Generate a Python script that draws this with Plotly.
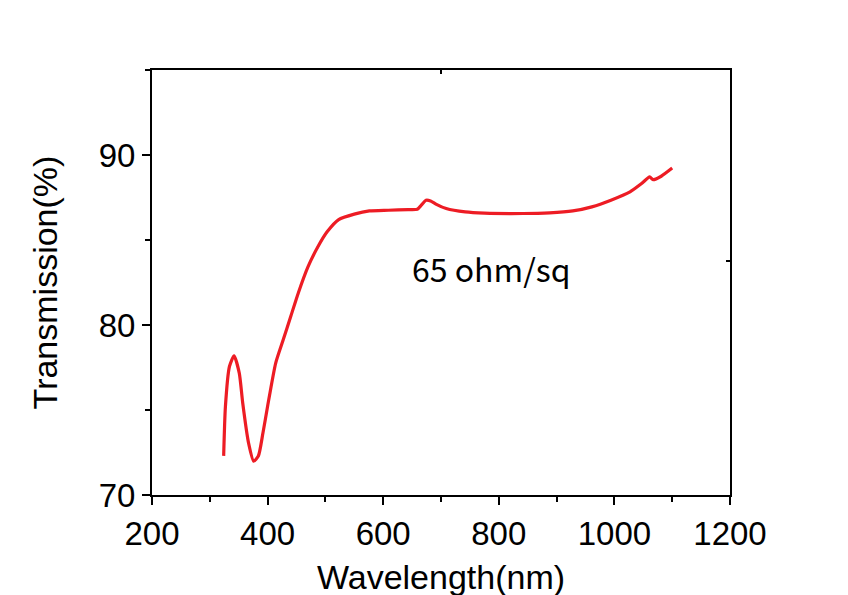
import plotly.graph_objects as go

wavelength = [324, 327, 334, 342, 351, 357, 367, 376, 384, 392, 400, 414, 427, 440, 453,
              470, 487, 503, 523, 550, 576, 609, 643, 659, 666, 674, 682, 692, 709, 742,
              775, 842, 888, 928, 961, 994, 1027, 1047, 1061, 1067, 1081, 1100]
transmission = [72.3, 75.2, 77.56, 78.19, 77.17, 75.4, 73.07, 71.99, 72.29, 73.66, 75.22,
                77.76, 79.13, 80.5, 81.87, 83.43, 84.6, 85.48, 86.2, 86.52, 86.71, 86.75,
                86.79, 86.81, 87.05, 87.34, 87.3, 87.1, 86.85, 86.65, 86.58, 86.56, 86.6,
                86.71, 86.95, 87.34, 87.83, 88.32, 88.71, 88.55, 88.75, 89.23]

label_text = "65 ohm/sq"
label_x = 788
label_y = 83.35

top_tick = [700]
right_tick = [83.76]

font_main = "Liberation Sans, Arial, sans-serif"

fig = go.Figure()
fig.add_trace(go.Scatter(x=wavelength, y=transmission, mode="lines",
                         line=dict(color="#ED1C24", width=3.2, shape="spline", smoothing=0.6),
                         showlegend=False, hoverinfo="skip"))
fig.add_trace(go.Scatter(x=[], y=[], xaxis="x2", yaxis="y2", showlegend=False))

fig.add_annotation(x=label_x, y=label_y, xref="x", yref="y", text=label_text, showarrow=False,
                   font=dict(family="Noto Sans CJK KR, Noto Sans, sans-serif", size=32, color="black"))

axis_common = dict(showline=True, linecolor="black", linewidth=2, mirror=True,
                   ticks="outside", ticklen=8, tickwidth=2, tickcolor="black",
                   showgrid=False, zeroline=False, automargin=False,
                   tickfont=dict(family=font_main, size=33, color="black"))

fig.update_layout(
    xaxis=dict(range=[200, 1200], dtick=200, tick0=200,
               minor=dict(dtick=100, ticks="outside", ticklen=5, tickwidth=2, tickcolor="black"),
               title=dict(text="Wavelength(nm)", font=dict(family=font_main, size=34, color="black"),
                          standoff=15),
               **axis_common),
    yaxis=dict(range=[70, 95], dtick=10, tick0=70,
               minor=dict(dtick=5, ticks="outside", ticklen=5, tickwidth=2, tickcolor="black"),
               title=dict(text="Transmission(%)", font=dict(family=font_main, size=34, color="black"),
                          standoff=31),
               **axis_common),
    xaxis2=dict(overlaying="x", side="top", range=[200, 1200], tickvals=top_tick,
                ticks="inside", ticklen=4, tickwidth=2, tickcolor="black",
                showticklabels=False, showline=False, showgrid=False, zeroline=False),
    yaxis2=dict(overlaying="y", side="right", range=[70, 95], tickvals=right_tick,
                ticks="inside", ticklen=4, tickwidth=2, tickcolor="black",
                showticklabels=False, showline=False, showgrid=False, zeroline=False),
    width=848, height=595, margin=dict(l=144, r=126, t=62, b=108),
    paper_bgcolor="white", plot_bgcolor="white",
)

fig.write_html("out.html")
